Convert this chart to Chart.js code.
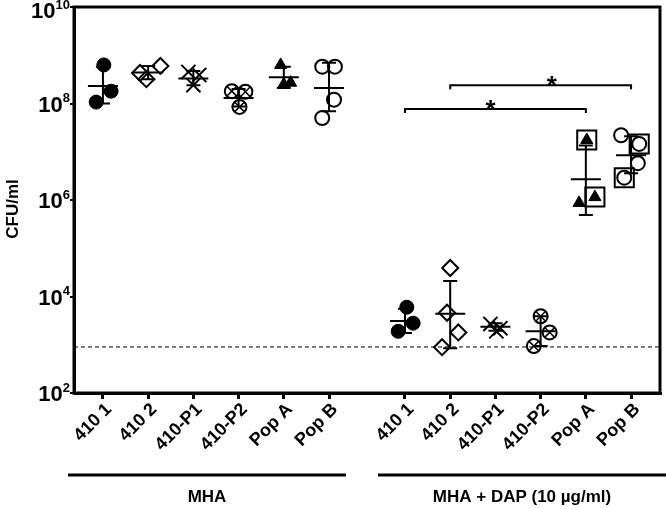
<!DOCTYPE html>
<html>
<head>
<meta charset="utf-8">
<script src="https://cdn.jsdelivr.net/npm/chart.js@4.4.1/dist/chart.umd.min.js"></script>
<style>
  body { margin: 0; background: #fff; }
</style>
</head>
<body>
<canvas id="cfuChart" width="666" height="509"></canvas>
<script>
// strains, shown once on MHA and once on MHA + DAP
const categories = ['410 1', '410 2', '410-P1', '410-P2', 'Pop A', 'Pop B',
                    '410 1', '410 2', '410-P1', '410-P2', 'Pop A', 'Pop B'];
// where each strain sits on the x axis (a wider gap between the two media)
const catPos = [0, 1, 2, 3, 4, 5, 6.68, 7.68, 8.68, 9.68, 10.68, 11.68];
const xMin = -0.64, xMax = 12.32;

// single replicates, CFU/ml
const cfuValues = [
    [6.3e8, 1.8e8, 1.07e8],
    [4.3e8, 3.2e8, 6.0e8],
    [4.5e8, 3.9e8, 2.4e8],
    [1.8e8, 1.75e8, 8.5e7],
    [6.3e8, 2.5e8, 2.7e8],
    [5.8e8, 5.8e8, 1.2e8, 5.0e7],
    [6.0e3, 2.8e3, 1.9e3],
    [3.9e4, 4.6e3, 1.8e3, 8.9e2],
    [2.7e3, 2.2e3, 1.9e3],
    [3.9e3, 1.8e3, 9.4e2],
    [1.75e7, 8.7e5, 1.15e6],
    [2.2e7, 1.45e7, 5.8e6, 2.9e6]
];
// horizontal scatter of the replicates (in category units)
const jitter = [
    [0.02, 0.18, -0.15],
    [-0.18, -0.04, 0.27],
    [-0.11, 0.13, 0.0],
    [-0.15, 0.15, 0.02],
    [-0.07, 0.0, 0.15],
    [-0.15, 0.13, 0.11, -0.15],
    [0.04, 0.18, -0.15],
    [0.0, -0.07, 0.18, -0.18],
    [-0.11, 0.11, 0.02],
    [0.0, 0.2, -0.15],
    [0.02, -0.15, 0.2],
    [-0.22, 0.18, 0.15, -0.15]
];
// replicates marked with a square
const boxed = [[], [], [], [], [], [], [], [], [], [], [0, 2], [1, 3]];

// mean and error bar ends
const means  = [2.3e8, 4.4e8, 3.3e8, 1.3e8, 3.5e8, 2.1e8, 3.1e3, 4.4e3, 2.35e3, 1.9e3, 2.7e6, 8.5e6];
const sdLow  = [1.0e8, 3.2e8, 2.4e8, 8.7e7, 2.1e8, 6.9e7, 1.75e3, 8.5e2, 1.95e3, 9.4e2, 4.9e5, 3.6e6];
const sdHigh = [5.8e8, 6.0e8, 4.7e8, 2.0e8, 5.8e8, 7.0e8, 5.6e3, 2.1e4, 2.8e3, 3.9e3, 1.35e7, 2.1e7];

// detection limit
const detectionLimit = 9.0e2;

// significance brackets (category index from / to, height, star position)
const bracketFrom = [6, 7];
const bracketTo = [10, 11];
const bracketLevel = [7.7e7, 2.4e8];
const bracketStarAt = [8.57, 9.93];
const bracketLabel = ['*', '*'];

const yTicks = [1e2, 1e4, 1e6, 1e8, 1e10];
const markerOf = ['dot', 'diamond', 'cross', 'circleX', 'triangle', 'ring'];

const FONT = "'Liberation Sans', Arial, sans-serif";
Chart.defaults.font.family = FONT;
Chart.defaults.color = '#000';

function pointsFor(kind) {
    const pts = [];
    categories.forEach((c, i) => {
        if (markerOf[i % 6] !== kind) return;
        cfuValues[i].forEach((v, j) => pts.push({ x: catPos[i] + jitter[i][j], y: v }));
    });
    return pts;
}

function boxedPoints() {
    const pts = [];
    boxed.forEach((list, i) => {
        list.forEach(j => pts.push({ x: catPos[i] + jitter[i][j], y: cfuValues[i][j] }));
    });
    return pts;
}

function markerSet(data, style, radius, fill, width) {
    return {
        type: 'scatter',
        data: data,
        pointStyle: style,
        pointRadius: radius,
        pointHoverRadius: radius,
        pointBackgroundColor: fill,
        pointBorderColor: '#000',
        pointBorderWidth: width,
        showLine: false
    };
}

// mean line with error bars, brackets, frame and labels
const meanSdPlugin = {
    id: 'meanSd',
    afterDatasetsDraw(chart) {
        const { ctx, scales: { x, y } } = chart;
        ctx.save();
        ctx.strokeStyle = '#000';
        ctx.lineWidth = 2;
        categories.forEach((c, i) => {
            const px = x.getPixelForValue(catPos[i]);
            const yM = y.getPixelForValue(means[i]);
            const yLo = y.getPixelForValue(sdLow[i]);
            const yHi = y.getPixelForValue(sdHigh[i]);
            ctx.beginPath();
            ctx.moveTo(px, yHi); ctx.lineTo(px, yLo);
            ctx.moveTo(px - 15, yM); ctx.lineTo(px + 15, yM);
            ctx.moveTo(px - 7, yHi); ctx.lineTo(px + 7, yHi);
            ctx.moveTo(px - 7, yLo); ctx.lineTo(px + 7, yLo);
            ctx.stroke();
        });

        // significance brackets
        ctx.fillStyle = '#000';
        ctx.font = 'bold 26px ' + FONT;
        ctx.textAlign = 'center';
        ctx.textBaseline = 'alphabetic';
        bracketFrom.forEach((f, k) => {
            const x1 = x.getPixelForValue(catPos[f]);
            const x2 = x.getPixelForValue(catPos[bracketTo[k]]);
            const yb = y.getPixelForValue(bracketLevel[k]);
            ctx.beginPath();
            ctx.moveTo(x1, yb + 4); ctx.lineTo(x1, yb);
            ctx.lineTo(x2, yb); ctx.lineTo(x2, yb + 4);
            ctx.stroke();
            ctx.fillText(bracketLabel[k], x.getPixelForValue(bracketStarAt[k]), yb + 9);
        });
        ctx.restore();
    },
    afterDraw(chart) {
        const { ctx, chartArea, scales: { y } } = chart;
        ctx.save();
        // closed frame
        ctx.strokeStyle = '#000';
        ctx.lineWidth = 3;
        ctx.strokeRect(chartArea.left, chartArea.top, chartArea.right - chartArea.left, chartArea.bottom - chartArea.top);

        // y tick labels as 10 with a raised exponent
        ctx.fillStyle = '#000';
        ctx.textBaseline = 'middle';
        ctx.textAlign = 'right';
        yTicks.forEach(v => {
            const py = Math.max(y.getPixelForValue(v), 10);
            const exp = String(Math.round(Math.log10(v)));
            const right = chartArea.left - 4;
            ctx.font = 'bold 13px ' + FONT;
            const ew = ctx.measureText(exp).width;
            ctx.fillText(exp, right, py - 5);
            ctx.font = 'bold 22px ' + FONT;
            ctx.fillText('10', right - ew, py + 2);
        });

        // axis title
        ctx.save();
        ctx.translate(13, 209);
        ctx.rotate(-Math.PI / 2);
        ctx.textAlign = 'center';
        ctx.font = 'bold 17px ' + FONT;
        ctx.fillText('CFU/ml', 0, 0);
        ctx.restore();

        // medium labels below the axis
        ctx.lineWidth = 3;
        ctx.beginPath();
        ctx.moveTo(68, 475); ctx.lineTo(346, 475);
        ctx.moveTo(378, 475); ctx.lineTo(666, 475);
        ctx.stroke();
        ctx.textAlign = 'center';
        ctx.font = 'bold 17px ' + FONT;
        ctx.fillText('MHA', 207, 497);
        ctx.fillText('MHA + DAP (10 \u00b5g/ml)', 522, 497);
        ctx.restore();
    }
};

whenReady();

function whenReady() {
    const ctx = document.getElementById('cfuChart');
    new Chart(ctx, {
        type: 'scatter',
        data: {
            datasets: [
                markerSet(boxedPoints(), 'rect', 13.5, 'rgba(0,0,0,0)', 2),
                markerSet(pointsFor('dot'), 'circle', 7, '#000', 1),
                markerSet(pointsFor('diamond'), 'rectRot', 8, 'rgba(0,0,0,0)', 2),
                markerSet(pointsFor('cross'), 'crossRot', 10, 'rgba(0,0,0,0)', 2),
                markerSet(pointsFor('circleX'), 'circle', 7, 'rgba(0,0,0,0)', 2),
                markerSet(pointsFor('circleX'), 'crossRot', 7, 'rgba(0,0,0,0)', 1.5),
                markerSet(pointsFor('triangle'), 'triangle', 7, '#000', 1),
                markerSet(pointsFor('ring'), 'circle', 7, 'rgba(0,0,0,0)', 2),
                {
                    type: 'line',
                    data: [{ x: xMin, y: detectionLimit }, { x: xMax, y: detectionLimit }],
                    borderColor: '#000',
                    borderWidth: 1,
                    borderDash: [4, 3],
                    pointRadius: 0
                }
            ]
        },
        options: {
            responsive: false,
            animation: false,
            layout: { autoPadding: false, padding: { top: 7, right: 6, left: 0, bottom: 0 } },
            plugins: { legend: { display: false }, tooltip: { enabled: false } },
            scales: {
                x: {
                    type: 'linear',
                    min: xMin,
                    max: xMax,
                    afterBuildTicks: axis => { axis.ticks = catPos.map(v => ({ value: v })); },
                    afterFit: axis => {
                        axis.height = 116;
                        axis.paddingLeft = 0;
                        axis.paddingRight = 0;
                    },
                    ticks: {
                        autoSkip: false,
                        minRotation: 45,
                        maxRotation: 45,
                        padding: 0,
                        labelOffset: 6,
                        font: { size: 18, weight: 'bold' },
                        callback: (value, index) => categories[index]
                    },
                    grid: { display: true, drawOnChartArea: false, drawTicks: true, tickLength: 6, lineWidth: 3, color: '#000' },
                    border: { display: true, width: 3, color: '#000' }
                },
                y: {
                    type: 'logarithmic',
                    min: 1e2,
                    max: 1e10,
                    afterBuildTicks: axis => { axis.ticks = yTicks.map(v => ({ value: v })); },
                    afterFit: axis => {
                        axis.width = 74;
                        axis.paddingTop = 0;
                        axis.paddingBottom = 0;
                    },
                    ticks: { callback: () => '', padding: 0 },
                    grid: { display: true, drawOnChartArea: false, drawTicks: true, tickLength: 4, lineWidth: 2, color: '#000' },
                    border: { display: true, width: 3, color: '#000' }
                }
            }
        },
        plugins: [meanSdPlugin]
    });
}
</script>
</body>
</html>
